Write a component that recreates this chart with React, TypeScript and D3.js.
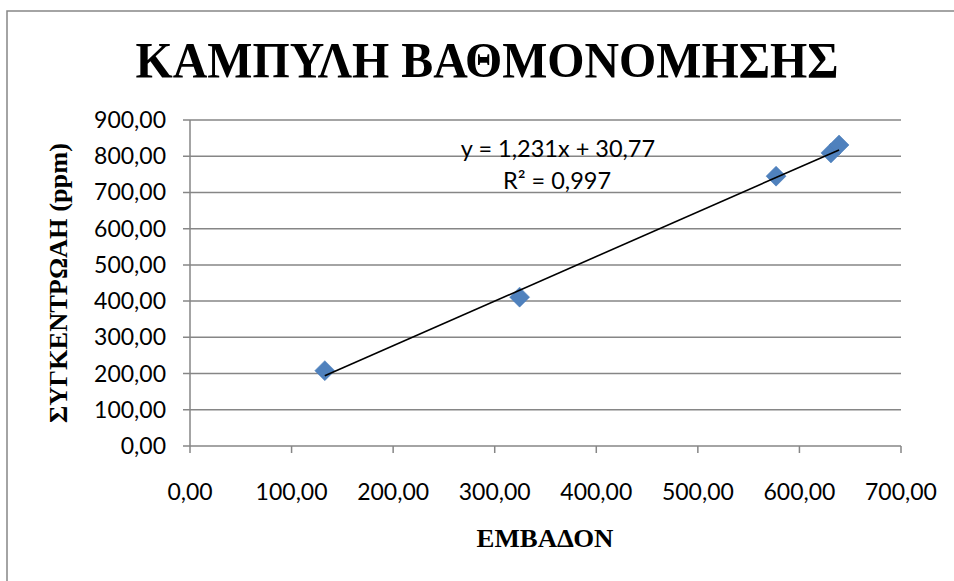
import React from "react";
import * as d3 from "d3";

const areaValues = [132.7, 324.5, 577, 631, 639];
const concValues = [208, 411, 745, 809, 831];
const xTicks = [0, 100, 200, 300, 400, 500, 600, 700];
const yTicks = [0, 100, 200, 300, 400, 500, 600, 700, 800, 900];
const titleText = "ΚΑΜΠΥΛΗ ΒΑΘΜΟΝΟΜΗΣΗΣ";
const xTitle = "ΕΜΒΑΔΟΝ";
const yTitle = "ΣΥΓΚΕΝΤΡΩΑΗ (ppm)";
const slope = 1.231;
const intercept = 30.77;
const eqLine = "y = 1,231x + 30,77";
const r2Line = "R² = 0,997";

const W = 954;
const H = 581;
const left = 190, right = 901, top = 120, bottom = 446;

const fmt = (v: number) => d3.format(".2f")(v).replace(".", ",");

export default function App() {
  const x = d3.scaleLinear().domain([0, 700]).range([left, right]);
  const y = d3.scaleLinear().domain([0, 900]).range([bottom, top]);
  const gray = "#868686";
  const sans = "Lato, 'Open Sans', sans-serif";
  const serif = "'Liberation Serif', 'DejaVu Serif', serif";
  const xmin = d3.min(areaValues) as number;
  const xmax = d3.max(areaValues) as number;
  const trend = d3.line<number>().x((d) => x(d)).y((d) => y(slope * d + intercept));
  const diamond = d3.symbol().type(d3.symbolSquare).size(200)();
  return (
    <svg
      width={W}
      height={H}
      style={{ position: "fixed", left: 0, top: 0, background: "#fff" }}
    >
      <rect x={7} y={11} width={W + 20} height={H + 20} fill="#fff" stroke={gray} strokeWidth={1.5} />
      <text
        x={487}
        y={77}
        textAnchor="middle"
        fontFamily={serif}
        fontWeight="bold"
        fontSize={50}
        textLength={703}
        lengthAdjust="spacingAndGlyphs"
      >
        {titleText}
      </text>
      {yTicks.map((t) => (
        <g key={"y" + t}>
          <line x1={left - 7} x2={right} y1={y(t)} y2={y(t)} stroke={gray} strokeWidth={1.5} />
          <text x={166} y={y(t) + 8} textAnchor="end" fontFamily={sans} fontSize={23} fill="#000">
            {fmt(t)}
          </text>
        </g>
      ))}
      <line x1={left} x2={left} y1={top} y2={bottom} stroke={gray} strokeWidth={1.5} />
      {xTicks.map((t) => (
        <g key={"x" + t}>
          <line x1={x(t)} x2={x(t)} y1={bottom} y2={bottom + 7} stroke={gray} strokeWidth={1.5} />
          <text x={x(t)} y={500} textAnchor="middle" fontFamily={sans} fontSize={23} fill="#000">
            {fmt(t)}
          </text>
        </g>
      ))}
      <text
        transform={`translate(67,283) rotate(-90)`}
        textAnchor="middle"
        fontFamily={serif}
        fontWeight="bold"
        fontSize={26}
        textLength={280}
        lengthAdjust="spacingAndGlyphs"
      >
        {yTitle}
      </text>
      <text
        x={545}
        y={547}
        textAnchor="middle"
        fontFamily={serif}
        fontWeight="bold"
        fontSize={25}
        textLength={137}
        lengthAdjust="spacingAndGlyphs"
      >
        {xTitle}
      </text>
      {areaValues.map((a, i) => (
        <path
          key={"p" + i}
          d={diamond as string}
          transform={`translate(${x(a)},${y(concValues[i])}) rotate(45)`}
          fill="#4F81BD"
          stroke="#4A7EBB"
          strokeWidth={0.5}
        />
      ))}
      <path d={trend([xmin, xmax]) as string} fill="none" stroke="#000" strokeWidth={1.6} />
      <text x={558} y={157} textAnchor="middle" fontFamily={sans} fontSize={23.5} fill="#000">
        {eqLine}
      </text>
      <text x={557} y={189} textAnchor="middle" fontFamily={sans} fontSize={23.5} fill="#000">
        {r2Line}
      </text>
    </svg>
  );
}
